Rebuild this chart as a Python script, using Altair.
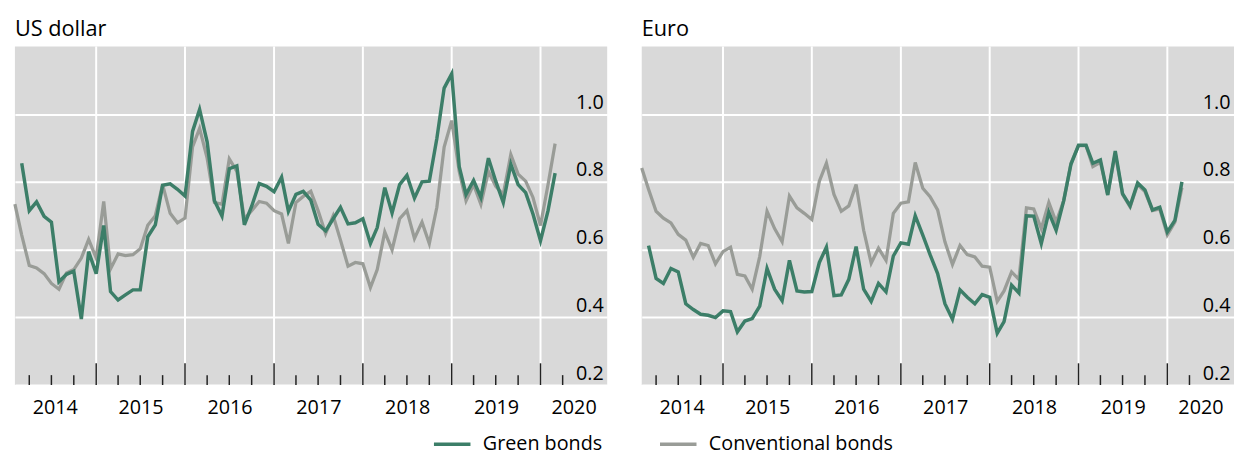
import altair as alt
import pandas as pd

# ---------------- data ----------------
series_names = ["Green bonds", "Conventional bonds"]
first_month = "2014-02-01"   # month of the first conventional observation

usd_green = [0.855, 0.715, 0.741, 0.698, 0.681, 0.505, 0.527, 0.536, 0.395, 0.594,
             0.529, 0.671, 0.476, 0.451, 0.466, 0.481, 0.481, 0.638, 0.673, 0.790,
             0.794, 0.778, 0.758, 0.949, 1.014, 0.918, 0.744, 0.699, 0.839, 0.847,
             0.673, 0.728, 0.795, 0.787, 0.771, 0.814, 0.713, 0.763, 0.772, 0.746,
             0.675, 0.655, 0.691, 0.725, 0.676, 0.679, 0.691, 0.618, 0.665, 0.783,
             0.708, 0.792, 0.819, 0.752, 0.800, 0.802, 0.928, 1.077, 1.119, 0.845,
             0.763, 0.804, 0.754, 0.870, 0.802, 0.739, 0.852, 0.792, 0.768, 0.705,
             0.626, 0.715, 0.826]
usd_conv = [0.734, 0.643, 0.553, 0.546, 0.529, 0.500, 0.483, 0.531, 0.541, 0.575,
            0.630, 0.575, 0.742, 0.543, 0.587, 0.582, 0.585, 0.602, 0.672, 0.700,
            0.792, 0.707, 0.679, 0.693, 0.903, 0.958, 0.870, 0.739, 0.734, 0.868,
            0.831, 0.691, 0.715, 0.742, 0.737, 0.715, 0.705, 0.618, 0.739, 0.757,
            0.772, 0.715, 0.647, 0.700, 0.628, 0.551, 0.562, 0.558, 0.488, 0.541,
            0.652, 0.599, 0.691, 0.715, 0.633, 0.681, 0.618, 0.725, 0.903, 0.981,
            0.831, 0.744, 0.792, 0.734, 0.831, 0.787, 0.763, 0.881, 0.823, 0.802,
            0.754, 0.671, 0.792, 0.913]
eur_green = [0.612, 0.515, 0.500, 0.544, 0.534, 0.440, 0.423, 0.409, 0.406, 0.399,
             0.419, 0.417, 0.357, 0.389, 0.396, 0.433, 0.544, 0.483, 0.449, 0.568,
             0.478, 0.475, 0.476, 0.562, 0.607, 0.464, 0.466, 0.512, 0.609, 0.483,
             0.447, 0.500, 0.475, 0.581, 0.620, 0.616, 0.700, 0.643, 0.585, 0.529,
             0.440, 0.394, 0.481, 0.459, 0.440, 0.467, 0.459, 0.353, 0.387, 0.495,
             0.472, 0.700, 0.699, 0.618, 0.710, 0.657, 0.744, 0.852, 0.908, 0.908,
             0.855, 0.865, 0.761, 0.891, 0.765, 0.729, 0.797, 0.776, 0.717, 0.725,
             0.652, 0.686, 0.800]
eur_conv = [0.841, 0.778, 0.713, 0.693, 0.679, 0.645, 0.628, 0.577, 0.618, 0.612,
            0.558, 0.594, 0.607, 0.527, 0.522, 0.483, 0.580, 0.713, 0.662, 0.623,
            0.758, 0.723, 0.707, 0.689, 0.802, 0.855, 0.763, 0.713, 0.729, 0.792,
            0.657, 0.560, 0.604, 0.568, 0.707, 0.737, 0.741, 0.857, 0.781, 0.756,
            0.717, 0.623, 0.556, 0.612, 0.585, 0.578, 0.551, 0.548, 0.447, 0.478,
            0.534, 0.512, 0.723, 0.720, 0.662, 0.739, 0.681, 0.744, 0.855, 0.907,
            0.907, 0.845, 0.858, 0.763, 0.884, 0.763, 0.726, 0.792, 0.771, 0.715,
            0.720, 0.643, 0.681, 0.783]

x_domain = ["2014-02-01", "2020-10-01"]
y_domain = [0.2, 1.2]
y_ticks = [0.2, 0.4, 0.6, 0.8, 1.0]
year_starts = ["2015-01-01", "2016-01-01", "2017-01-01", "2018-01-01", "2019-01-01", "2020-01-01"]
quarter_starts = [f"{y}-{m:02d}-01" for y in range(2014, 2021) for m in (4, 7, 10)
                  if f"{y}-{m:02d}-01" < "2020-06-01"]
year_label_dates = ["2014-07-15", "2015-07-02", "2016-07-02", "2017-07-02",
                    "2018-07-02", "2019-07-02", "2020-05-16"]

GREEN = "#3c7e68"
GRAY = "#999c97"
BG = "#d9d9d9"
W, H = 600, 343
FONT = "Open Sans"


def frame(green, conv):
    months = pd.date_range(first_month, periods=len(conv), freq="MS")
    g = pd.DataFrame({"date": months[1:], "value": green, "series": series_names[0]})
    c = pd.DataFrame({"date": months, "value": conv, "series": series_names[1]})
    return pd.concat([g, c], ignore_index=True)


def panel(df, title):
    x_enc = alt.X("date:T",
                  scale=alt.Scale(domain=x_domain),
                  axis=alt.Axis(values=year_label_dates, format="%Y", ticks=False, tickSize=0,
                                domain=False, grid=False, labelFlush=False, labelOverlap=False,
                                labelPadding=13, labelFontSize=20, labelColor="#000",
                                labelFont=FONT, title=None, minExtent=0))
    y_enc = alt.Y("value:Q",
                  scale=alt.Scale(domain=y_domain, nice=False, zero=False),
                  axis=alt.Axis(orient="right", values=y_ticks, format=".1f", ticks=False, tickSize=0,
                                domain=False, grid=True, gridColor="white", gridWidth=2,
                                labelAlign="right", labelPadding=-4, labelBaseline="alphabetic",
                                labelOffset=-6, labelFlush=False, labelOverlap=False,
                                labelFontSize=20, labelColor="#000", labelFont=FONT, title=None,
                                minExtent=0, maxExtent=0))
    color = alt.Color("series:N",
                      scale=alt.Scale(domain=series_names, range=[GREEN, GRAY]),
                      legend=alt.Legend(title=None, orient="none", direction="horizontal",
                                        legendX=432, legendY=392, symbolType="M-2,0H2",
                                        symbolSize=342, symbolStrokeWidth=3.5,
                                        labelFontSize=20, labelFont=FONT, labelColor="#000",
                                        labelOffset=20, labelLimit=400, columnPadding=51,
                                        padding=0))

    vgrid = alt.Chart(pd.DataFrame({"date": year_starts})).mark_rule(
        color="white", strokeWidth=2).encode(x="date:T")
    conv_line = alt.Chart(df).transform_filter(
        alt.datum.series == series_names[1]).mark_line(strokeWidth=3.3).encode(
        x=x_enc, y=y_enc, color=color)
    green_line = alt.Chart(df).transform_filter(
        alt.datum.series == series_names[0]).mark_line(strokeWidth=3.5).encode(
        x=x_enc, y=y_enc, color=color)
    minor = alt.Chart(pd.DataFrame({"date": quarter_starts})).mark_rule(
        color="#222", strokeWidth=1.5).encode(
        x="date:T", y=alt.value(H), y2=alt.value(H - 10))
    major = alt.Chart(pd.DataFrame({"date": year_starts})).mark_rule(
        color="#222", strokeWidth=1.5).encode(
        x="date:T", y=alt.value(H), y2=alt.value(H - 22))

    return alt.layer(vgrid, conv_line, green_line, minor, major).properties(
        width=W, height=H,
        title=alt.Title(title, anchor="start", frame="group", fontSize=22,
                        fontWeight="normal", font=FONT, color="#000", offset=5))


chart = alt.hconcat(
    panel(frame(usd_green, usd_conv), "US dollar"),
    panel(frame(eur_green, eur_conv), "Euro"),
    spacing=28,
).properties(
    padding={"left": 0, "top": 7, "right": 0, "bottom": 0}
).configure(
    font=FONT,
    view=alt.ViewConfig(fill=BG, strokeWidth=0),
)

chart.save("out.html", embed_options={"renderer": "svg", "actions": False})
